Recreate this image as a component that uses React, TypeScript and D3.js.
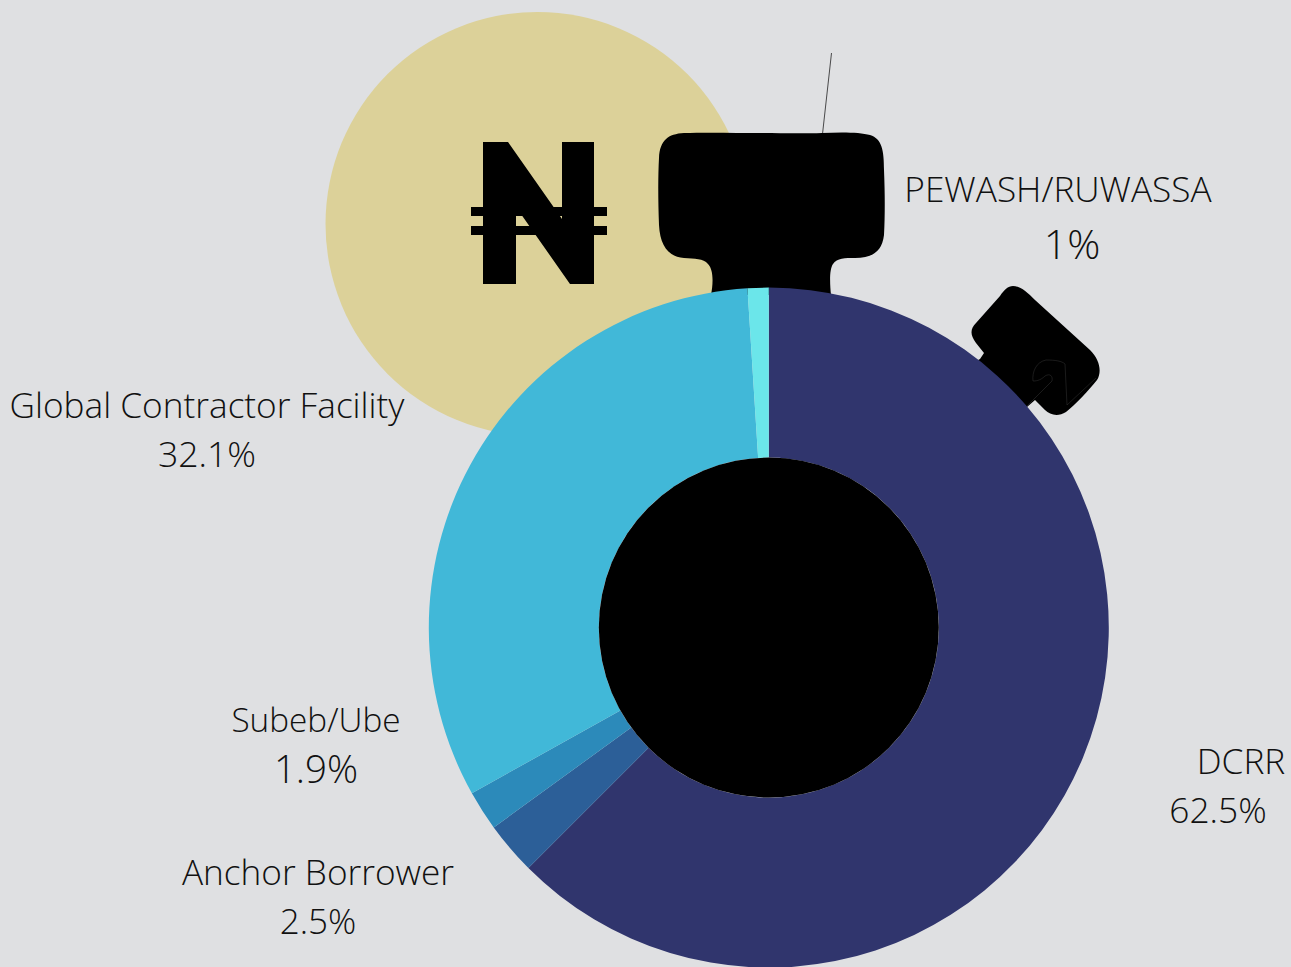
import * as d3 from "d3";

const categories = ["DCRR", "Anchor Borrower", "Subeb/Ube", "Global Contractor Facility", "PEWASH/RUWASSA"];
const shares = [62.5, 2.5, 1.9, 32.1, 1];
const shareLabels = ["62.5%", "2.5%", "1.9%", "32.1%", "1%"];
const colors = ["#30356d", "#2c5f98", "#2c8aba", "#41b8d8", "#6be6ea"];

// label anchor: x, name baseline, value x, value baseline
const labelSpots = [
  [1241, 774, 1218, 823],
  [318, 885, 318, 934],
  [316, 732, 316, 783],
  [207, 418, 207, 467],
  [1058, 202, 1072, 259],
];
// name size, value size
const labelSizes = [
  [35.2, 35.3],
  [35.2, 35],
  [33.3, 38.5],
  [35.2, 35.6],
  [35.2, 41],
];

const WIDTH = 1291;
const HEIGHT = 967;
const CX = 768.8;
const CY = 627.6;
const OUTER = 340;
const INNER = 170;

const nairaPath =
  "M483,142 L508,142 L562,219 L562,142 L594,142 L594,284 L570,284 L516,207 L516,284 L483,284 Z";
const crownPath =
  "M684,133 C720,132 790,134 822,133 C840,132 860,132 870,135 C882,139 884,150 884,170 C885,195 885,215 884,235 C882,252 872,258 855,258 C845,258 837,258 833,264 C829,270 830,285 831,295 L711,295 C713,285 714,270 708,264 C703,258 695,259 684,258 C668,257 660,245 659,225 C658,200 658,175 659,158 C660,140 668,134 684,133 Z";
const buttonPath =
  "M1013,286 C1020,286 1027,292 1035,300 L1090,350 C1100,360 1102,372 1097,380 C1089,390 1075,405 1066,412 C1058,417 1050,415 1045,410 L1035,400 L1027,407 L960,370 L980,359 L984,353 L976,343 C970,335 970,329 976,323 L1000,296 C1004,290 1008,286 1013,286 Z";
const hookPath =
  "M1027,406 L1052,381 C1053,376 1050,373 1045,376 C1040,381 1035,381 1033,381 C1032,372 1036,362 1046,360 C1055,360 1062,361 1065,364 L1067,405 L1096,378";

export default function App() {
  const arcs = d3.pie<number>().sort(null).value((d) => d)(shares);
  const arcGen = d3.arc<d3.PieArcDatum<number>>().innerRadius(INNER).outerRadius(OUTER);
  const textStyle = { fontFamily: "'Open Sans'", fontWeight: 300, fill: "#111" };

  return (
    <svg
      width={WIDTH}
      height={HEIGHT}
      style={{ position: "absolute", top: 0, left: 0, display: "block", background: "#dfe0e2" }}
    >
      <circle cx={537.5} cy={224} r={212} fill="#dcd199" />
      <path d={nairaPath} fill="#000" />
      <rect x={471} y={207} width={136} height={9} fill="#000" />
      <rect x={471} y={226} width={136} height={9} fill="#000" />

      <line x1={831.5} y1={53} x2={822.5} y2={134} stroke="#222" strokeWidth={0.8} />
      <path d={crownPath} fill="#000" />
      <path d={buttonPath} fill="#000" />
      <path d={hookPath} fill="none" stroke="#444" strokeWidth={0.4} />

      <g transform={`translate(${CX},${CY})`}>
        {arcs.map((a, i) => (
          <path key={categories[i]} d={arcGen(a) ?? ""} fill={colors[i]} />
        ))}
        <circle r={INNER} fill="#000" />
      </g>

      {categories.map((name, i) => (
        <g key={name} style={textStyle} textAnchor="middle">
          <text x={labelSpots[i][0]} y={labelSpots[i][1]} fontSize={labelSizes[i][0]}>{name}</text>
          <text x={labelSpots[i][2]} y={labelSpots[i][3]} fontSize={labelSizes[i][1]}>{shareLabels[i]}</text>
        </g>
      ))}
    </svg>
  );
}
